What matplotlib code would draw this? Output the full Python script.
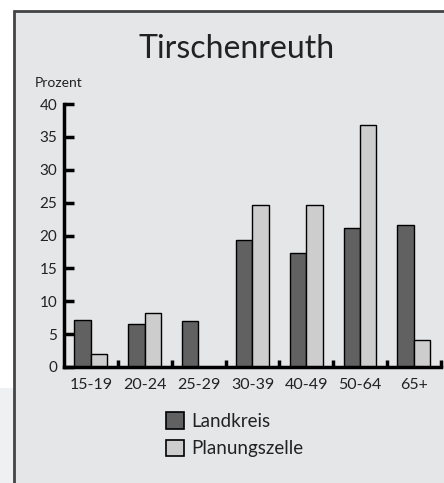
import matplotlib.pyplot as plt
from matplotlib.patches import Rectangle, Patch

plt.rcParams['font.family'] = ['Lato', 'DejaVu Sans']

categories = ['15-19', '20-24', '25-29', '30-39', '40-49', '50-64', '65+']
landkreis = [7.2, 6.5, 7.0, 19.3, 17.4, 21.2, 21.6]
planungszelle = [2.0, 8.2, 0.0, 24.6, 24.6, 36.8, 4.1]
title = 'Tirschenreuth'
series_names = ['Landkreis', 'Planungszelle']

dark = '#616161'
light = '#cdcdcd'
panel = '#e5e6e8'
text_col = '#222222'

W, H = 444, 483
fig = plt.figure(figsize=(W / 100, H / 100), dpi=100)
fig.patch.set_facecolor('white')

# grey panel with dark border on left and top
fig.patches.append(Rectangle((0, 0), 14 / W, (H - 388) / H, transform=fig.transFigure,
                             facecolor='#eff0f2', edgecolor='none', zorder=-3))
fig.patches.append(Rectangle((14 / W, -0.01), 1, (H - 11) / H + 0.01, transform=fig.transFigure,
                             facecolor=panel, edgecolor='#444444', linewidth=2, zorder=-2))

ax = fig.add_axes([64 / W, (H - 367) / H, 377 / W, 263 / H])
ax.set_facecolor('none')

x = list(range(len(categories)))
w = 0.305
ax.bar([i - 0.31 for i in x], landkreis, width=w, align='edge',
       color=dark, edgecolor='black', linewidth=1, zorder=2)
ax.bar([i - 0.005 for i in x], planungszelle, width=w, align='edge',
       color=light, edgecolor='black', linewidth=1, zorder=2)

ax.set_xlim(-0.5, 6.5)
ax.set_ylim(0, 40)
for s in ['top', 'right']:
    ax.spines[s].set_visible(False)
for s in ['left', 'bottom']:
    ax.spines[s].set_linewidth(2.5)
    ax.spines[s].set_color('black')

ax.set_yticks(range(0, 41, 5))
ax.tick_params(axis='y', direction='in', length=7, width=2.5, pad=5,
               labelsize=11, labelcolor=text_col)
ax.set_xticks(x)
ax.set_xticklabels(categories)
ax.tick_params(axis='x', which='major', length=0, pad=8, labelsize=11.5, labelcolor=text_col)
ax.set_xticks([i + 0.5 for i in x], minor=True)
ax.tick_params(axis='x', which='minor', direction='in', length=5, width=2.5)

fig.text(237 / W, (H - 58) / H, title, ha='center', va='baseline',
         fontsize=23, color=text_col)
fig.text(35 / W, (H - 87) / H, 'Prozent', ha='left', va='baseline',
         fontsize=10, color=text_col)

handles = [Patch(facecolor=dark, edgecolor='black', linewidth=1.2),
           Patch(facecolor=light, edgecolor='black', linewidth=1.2)]
fig.legend(handles, series_names, loc='upper left',
           bbox_to_anchor=(157 / W, (H - 403) / H), frameon=False,
           fontsize=13.5, handlelength=0.95, handleheight=0.95,
           handletextpad=0.35, labelspacing=0.52, borderpad=0,
           labelcolor=text_col)

fig.savefig('out.png', dpi=100, facecolor='white')
